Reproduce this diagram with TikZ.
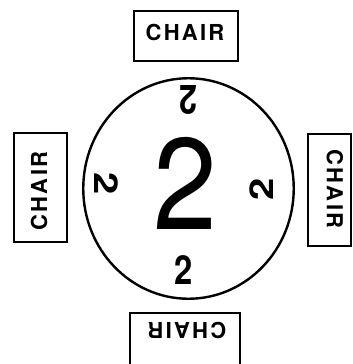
\documentclass[tikz,border=0pt]{standalone}
\usepackage{fontspec}
\setmainfont{TeX Gyre Heros}
\newfontfamily\chairfont[LetterSpace=10]{TeX Gyre Heros}
\usetikzlibrary{shapes.geometric}
\begin{document}
\begin{tikzpicture}[x=1pt,y=-1pt,
  chairbox/.style={draw, line width=2.4pt, inner sep=0pt, rectangle},
  chairtext/.style={font=\chairfont\bfseries\fontsize{22}{22}\selectfont, inner sep=0pt},
  seatnum/.style={font=\bfseries\fontsize{40}{40}\selectfont, inner sep=0pt, xscale=0.82},
  bignum/.style={font=\fontsize{130}{130}\selectfont, inner sep=0pt, xscale=0.88}]
\useasboundingbox (0,0) rectangle (353,364);
% table
\node[draw, ellipse, line width=2.4pt, minimum width=210.5pt, minimum height=220.5pt, inner sep=0pt] (table) at (188.5,188.5) {};
% chairs
\node[chairbox, minimum width=103.5pt, minimum height=49.5pt] (ctop) at (186,36) {};
\node[chairbox, minimum width=52.5pt, minimum height=108.5pt] (cleft) at (40.5,187.5) {};
\node[chairbox, minimum width=42.5pt, minimum height=111.5pt] (cright) at (329.5,190) {};
\node[chairbox, minimum width=109.5pt, minimum height=67pt] (cbottom) at (185,346.5) {};
% chair labels
\node[chairtext] (ttop) at (185,32) {CHAIR};
\node[chairtext, rotate=90] (tleft) at (39,191) {CHAIR};
\node[chairtext, rotate=-90] (tright) at (335,189) {CHAIR};
\node[chairtext, rotate=180] (tbottom) at (187,331) {CHAIR};
% numbers
\node[bignum] (big) at (185,183.5) {2};
\node[seatnum, rotate=180] (ntop) at (188,100) {2};
\node[seatnum, rotate=-90] (nleft) at (106,184) {2};
\node[seatnum, rotate=90] (nright) at (262,189) {2};
\node[seatnum] (nbottom) at (184,270) {2};
\end{tikzpicture}
\end{document}
